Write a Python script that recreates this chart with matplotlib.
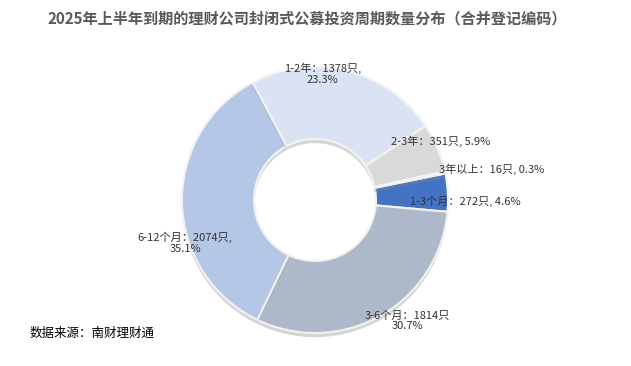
import numpy as np
import matplotlib
matplotlib.use('Agg')
import matplotlib.pyplot as plt
import matplotlib.patheffects as pe

plt.rcParams['font.family'] = ['Noto Sans CJK SC', 'DejaVu Sans']

# 数据（顺时针顺序）
categories = ['1-3个月', '3-6个月', '6-12个月', '1-2年', '2-3年', '3年以上']
counts = [272, 1814, 2074, 1378, 351, 16]
percents = ['4.6%', '30.7%', '35.1%', '23.3%', '5.9%', '0.3%']
colors = ['#4472C4', '#ADB9CA', '#B4C7E7', '#DAE3F3', '#D9D9D9', '#D9D9D9']

W, H = 631, 366
fig = plt.figure(figsize=(W / 100, H / 100), dpi=100)
ax = fig.add_axes([0, 0, 1, 1])

cx, cy = 315, H - 200
R = 133
inner = 61

wedges, _ = ax.pie(counts, colors=colors, startangle=11.5, counterclock=False,
                   center=(cx, cy), radius=R,
                   wedgeprops=dict(width=R - inner, edgecolor='#F2F2F2', linewidth=1.5),
                   frame=True)
ax.set_xlim(0, W)
ax.set_ylim(0, H)
ax.axis('off')
for w in wedges:
    w.set_path_effects([pe.SimplePatchShadow(offset=(0, -3), shadow_rgbFace='#888888', alpha=0.35),
                        pe.Normal()])

# 标签位置：外圆上中点 + 偏移（像素）
offsets = {
    '1-3个月': (18, -9),
    '3-6个月': (27, -5),
    '6-12个月': (3, -40),
    '1-2年': (-25, -3),
    '2-3年': (3, 6),
    '3年以上': (47, 3),
}
two_line = {'1-2年', '6-12个月', '3-6个月'}
for w, cat, n, p in zip(wedges, categories, counts, percents):
    mid = np.deg2rad((w.theta1 + w.theta2) / 2)
    x = cx + R * np.cos(mid) + offsets[cat][0]
    y = cy + R * np.sin(mid) + offsets[cat][1]
    if cat in two_line:
        txt = f'{cat}：{n}只,\n{p}' if cat != '3-6个月' else f'{cat}：{n}只\n{p}'
    else:
        txt = f'{cat}：{n}只, {p}'
    ax.text(x, y, txt, ha='center', va='center', fontsize=8, color='#333333',
            linespacing=1.1)

fig.text(307 / W, 1 - 18 / H, '2025年上半年到期的理财公司封闭式公募投资周期数量分布（合并登记编码）',
         ha='center', va='center', fontsize=10.9, fontweight='bold', color='#595959')
fig.text(30 / W, 1 - 333 / H, '数据来源：南财理财通', ha='left', va='center',
         fontsize=9, color='#000000')

fig.savefig('out.png', dpi=100)
